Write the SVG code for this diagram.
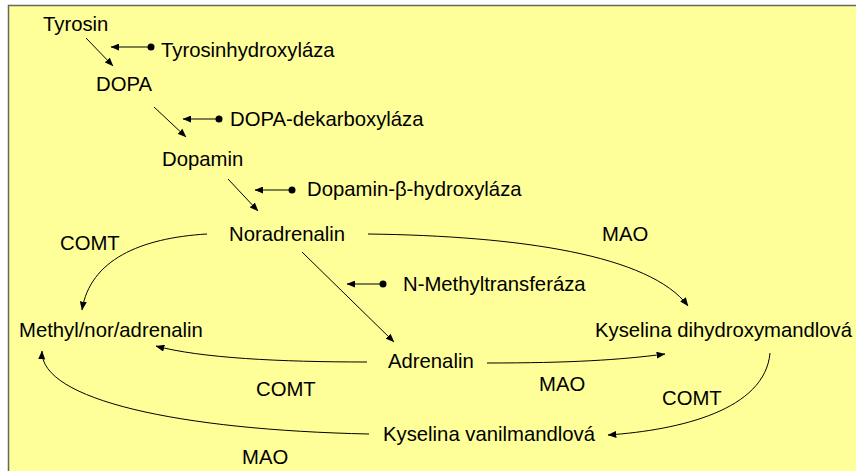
<svg xmlns="http://www.w3.org/2000/svg" width="856" height="471" viewBox="0 0 856 471">
<defs>
<marker id="ah" viewBox="0 0 10 8" markerWidth="9" markerHeight="7" refX="9.5" refY="4" orient="auto" markerUnits="userSpaceOnUse">
<path d="M0,0 L10,4 L0,8 z" fill="#000"/>
</marker>
</defs>
<style>
text{font-family:"Liberation Sans",Arial,sans-serif;font-size:20.3px;fill:#000}
.c{fill:none;stroke:#000;stroke-width:1;marker-end:url(#ah)}
.dot{fill:#000}
</style>
<rect x="8.5" y="5.5" width="900" height="500" fill="#FFFF99" stroke="#666" stroke-width="1.5"/>

<g id="connectors">
<path class="c" d="M86,38 L113,66"/>
<path class="c" d="M154,107 L186,137"/>
<path class="c" d="M228,179 L258,211"/>
<path class="c" d="M302,252 L394,342"/>
<path class="c" d="M151,47 L111,47"/><circle class="dot" cx="151" cy="47" r="3.5"/>
<path class="c" d="M219,119 L183,119"/><circle class="dot" cx="219" cy="119" r="3.5"/>
<path class="c" d="M292,190 L255,190"/><circle class="dot" cx="292" cy="190" r="3.5"/>
<path class="c" d="M383,284 L347,284"/><circle class="dot" cx="383" cy="284" r="3.5"/>
<path class="c" d="M207,234 C140,238 90,260 82,310"/>
<path class="c" d="M368,234 C520,236 650,255 688,306"/>
<path class="c" d="M367,362 C280,362 200,358 156,346"/>
<path class="c" d="M487,363 C570,363 620,360 665,354"/>
<path class="c" d="M770,353 C765,410 680,430 608,435"/>
<path class="c" d="M369,434 C180,430 40,400 42,351"/>
</g>

<g id="tyrosin"><text x="43" y="31">Tyrosin</text></g>
<g id="tyrosinhydroxylaza"><text x="161" y="57">Tyrosinhydroxyláza</text></g>
<g id="dopa"><text x="96" y="91">DOPA</text></g>
<g id="dopa-dekarboxylaza"><text x="230" y="126">DOPA-dekarboxyláza</text></g>
<g id="dopamin"><text x="162" y="166">Dopamin</text></g>
<g id="dopamin-b-hydroxylaza"><text x="307" y="196">Dopamin-β-hydroxyláza</text></g>
<g id="noradrenalin"><text x="229" y="241">Noradrenalin</text></g>
<g id="n-methyltransferaza"><text x="403" y="291">N-Methyltransferáza</text></g>
<g id="methylnoradrenalin"><text x="19" y="337">Methyl/nor/adrenalin</text></g>
<g id="adrenalin"><text x="388" y="368">Adrenalin</text></g>
<g id="kyselina-dihydroxymandlova"><text x="595" y="337">Kyselina dihydroxymandlová</text></g>
<g id="kyselina-vanilmandlova"><text x="383" y="441">Kyselina vanilmandlová</text></g>
<g id="labels">
<text x="60" y="250">COMT</text>
<text x="602" y="241">MAO</text>
<text x="256" y="396">COMT</text>
<text x="539" y="391">MAO</text>
<text x="662" y="405">COMT</text>
<text x="242" y="464">MAO</text>
</g>
</svg>
